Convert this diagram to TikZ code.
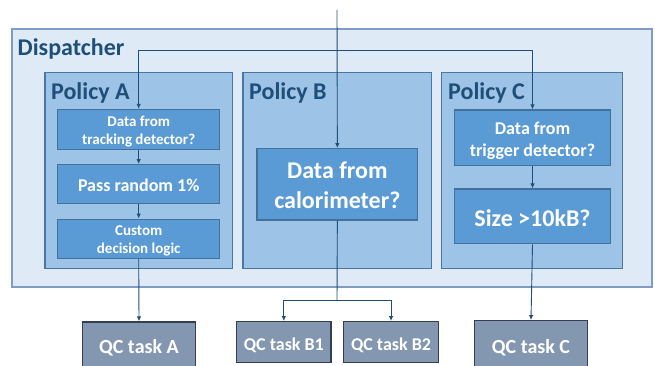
\documentclass[tikz,border=0pt]{standalone}
\usepackage{fontspec}
\setmainfont{Carlito}
\usetikzlibrary{arrows.meta}
\definecolor{dispfill}{HTML}{DEEBF7}
\definecolor{dispdraw}{HTML}{7F9DC2}
\definecolor{polfill}{HTML}{9DC3E6}
\definecolor{poldraw}{HTML}{4A76A3}
\definecolor{boxfill}{HTML}{5B9BD5}
\definecolor{boxdraw}{HTML}{41719C}
\definecolor{qcfill}{HTML}{8497B0}
\definecolor{qcdraw}{HTML}{333F50}
\definecolor{titlecol}{HTML}{1F4E79}
\definecolor{linecol}{HTML}{1F4E79}
\newcommand{\topstrut}[1]{\rule{0pt}{#1}}
\newcommand{\botstrut}[1]{\rule[-#1]{0pt}{#1}}
\tikzset{
  dispbox/.style={draw=dispdraw, fill=dispfill, line width=1.3pt, inner sep=0pt},
  polbox/.style={draw=poldraw, fill=polfill, line width=1.3pt, inner sep=0pt},
  stepbox/.style={draw=boxdraw, fill=boxfill, line width=1.3pt, inner sep=0pt,
     text=white, font=\bfseries, align=center},
  qcbox/.style={draw=qcdraw, fill=qcfill, line width=1.3pt, inner sep=0pt,
     text=white, font=\bfseries, align=center},
  titletext/.style={text=titlecol, font=\bfseries\fontsize{24}{28}\selectfont, inner sep=0pt, anchor=base west},
  conn/.style={draw=linecol, line width=0.9pt},
  arr/.style={conn, -{Latex[length=5pt,width=4.5pt]}},
}
\begin{document}
\begin{tikzpicture}[x=1pt,y=-1pt]
\useasboundingbox (0,0) rectangle (655,366);
% containers
\node[dispbox, minimum width=640pt, minimum height=258pt] (disp) at (332,158) {};
\node[titletext] (disptitle) at (17.5,56) {Dispatcher};
\node[polbox, minimum width=187.5pt, minimum height=196pt] (polA) at (138.75,170.7) {};
\node[polbox, minimum width=188.7pt, minimum height=196pt] (polB) at (337.35,170.7) {};
\node[polbox, minimum width=181.4pt, minimum height=196pt] (polC) at (532,170.7) {};
\node[titletext] (polAt) at (51,100) {Policy A};
\node[titletext] (polBt) at (249,100) {Policy B};
\node[titletext] (polCt) at (448,100) {Policy C};
% policy A steps
\node[stepbox, minimum width=162pt, minimum height=39pt, font=\bfseries\fontsize{15}{18.3}\selectfont] (track) at (138.7,129.5) {\topstrut{17.2pt}Data from\\tracking detector?\botstrut{4.5pt}};
\node[stepbox, minimum width=162pt, minimum height=39pt, font=\bfseries\fontsize{18}{22}\selectfont, text height=20.4pt, text depth=5.4pt] (pass) at (138.7,184.2) {Pass random 1\%};
\node[stepbox, minimum width=162pt, minimum height=39pt, font=\bfseries\fontsize{15}{17.6}\selectfont] (custom) at (138.7,238.7) {\topstrut{16.1pt}Custom\\decision logic\botstrut{4.5pt}};
% policy B
\node[stepbox, minimum width=160.7pt, minimum height=71.3pt, font=\bfseries\fontsize{24}{29.3}\selectfont] (calor) at (337.35,184.35) {\topstrut{25.8pt}Data from\\calorimeter?\botstrut{7.2pt}};
% policy C
\node[stepbox, minimum width=156.4pt, minimum height=55.3pt, font=\bfseries\fontsize{18}{22.7}\selectfont] (trig) at (532.5,137.65) {\topstrut{20.8pt}Data from\\trigger detector?\botstrut{5.4pt}};
\node[stepbox, minimum width=156.4pt, minimum height=54.7pt, font=\bfseries\fontsize{24}{29}\selectfont, text height=26.5pt, text depth=7.2pt] (size) at (532.5,216.35) {Size >10kB?};
% QC tasks
\node[qcbox, minimum width=113.4pt, minimum height=52.6pt, font=\bfseries\fontsize{20}{24}\selectfont, text height=14pt, text depth=4pt] (qcA) at (139,348.3) {QC task A};
\node[qcbox, minimum width=94.3pt, minimum height=40.6pt, font=\bfseries\fontsize{18}{22}\selectfont, text height=21.4pt, text depth=5.4pt] (qcB1) at (283.85,342) {QC task B1};
\node[qcbox, minimum width=94.6pt, minimum height=40.6pt, font=\bfseries\fontsize{18}{22}\selectfont, text height=21.4pt, text depth=5.4pt] (qcB2) at (391,342) {QC task B2};
\node[qcbox, minimum width=113.4pt, minimum height=52.6pt, font=\bfseries\fontsize{20}{24}\selectfont, text height=16.6pt, text depth=4pt] (qcC) at (531,347) {QC task C};
% connectors
\coordinate (input) at (337,10);
\coordinate (split) at (337,50.7);
\coordinate (bsplit) at (337,300.7);
\draw[arr] (input) -- (calor.north);
\draw[arr] (split) -| (track.north);
\draw[arr] (split) -| (trig.north);
\draw[arr] (track) -- (pass);
\draw[arr] (pass) -- (custom);
\draw[arr] (custom.south) -- (qcA.north);
\draw[arr] (trig) -- (size);
\draw[arr] (size.south) -- (qcC.north);
\draw[conn] (calor.south) -- (bsplit);
\draw[arr] (bsplit) -| (qcB1.north);
\draw[arr] (bsplit) -| (qcB2.north);
\end{tikzpicture}
\end{document}
